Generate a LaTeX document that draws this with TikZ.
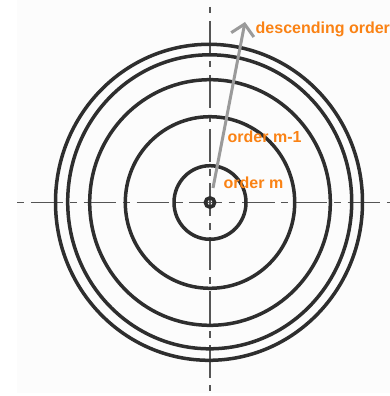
\documentclass[tikz,border=0pt]{standalone}
\usepackage{fontspec}
\setmainfont{Liberation Sans}
\usetikzlibrary{arrows.meta}
\definecolor{ringcol}{HTML}{2E2E2E}
\definecolor{axiscol}{HTML}{555555}
\definecolor{arrowcol}{HTML}{9A9A9A}
\definecolor{labelcol}{RGB}{250,130,20}
\definecolor{bgcol}{HTML}{FCFCFC}
\tikzset{
  ring/.style={draw=ringcol, line width=3.5pt},
  axis/.style={draw=axiscol, line width=1.4pt},
  lbl/.style={text=labelcol, font=\bfseries\fontsize{16pt}{18pt}\selectfont, inner sep=0pt, anchor=base west},
  pointer/.style={draw=arrowcol, line width=3pt, -{Straight Barb[length=11pt, width=23pt, line width=3pt]}}
}
\begin{document}
\begin{tikzpicture}[x=1pt, y=-1pt]
\useasboundingbox (0,0) rectangle (390,396);
\fill[white] (0,0) rectangle (390,396);
\fill[bgcol] (17,0) rectangle (390,393);
\coordinate (c) at (210,202.5);
% axes
\draw[axis, dash pattern=on 6.8pt off 6.8pt on 32.4pt off 6.8pt] (17.3,202.5) -- (390,202.5);
\draw[axis, dash pattern=on 6.5pt off 7.5pt on 32.5pt off 7.5pt] (210,7) -- (210,391);
% rings
\draw[ring] (209,202.3) ellipse [x radius=153.5, y radius=158];
\draw[ring] (209.7,201.8) ellipse [x radius=142, y radius=147];
\draw[ring] (c) ellipse [x radius=120.3, y radius=122.8];
\draw[ring] (c) ellipse [x radius=84.7, y radius=85.8];
\draw[ring] (c) ellipse [x radius=36, y radius=36.8];
\draw[draw=ringcol, line width=3.6pt] (c) circle [radius=4.6];
% arrow
\coordinate (a0) at (213,188);
\coordinate (a1) at (245,22);
\draw[pointer] (a0) -- (a1);
% labels
\node[lbl] (t1) at (255.5,33.5) {descending order};
\node[lbl] (t2) at (227.5,142.5) {order m-1};
\node[lbl] (t3) at (223.5,188.5) {order m};
\end{tikzpicture}
\end{document}
